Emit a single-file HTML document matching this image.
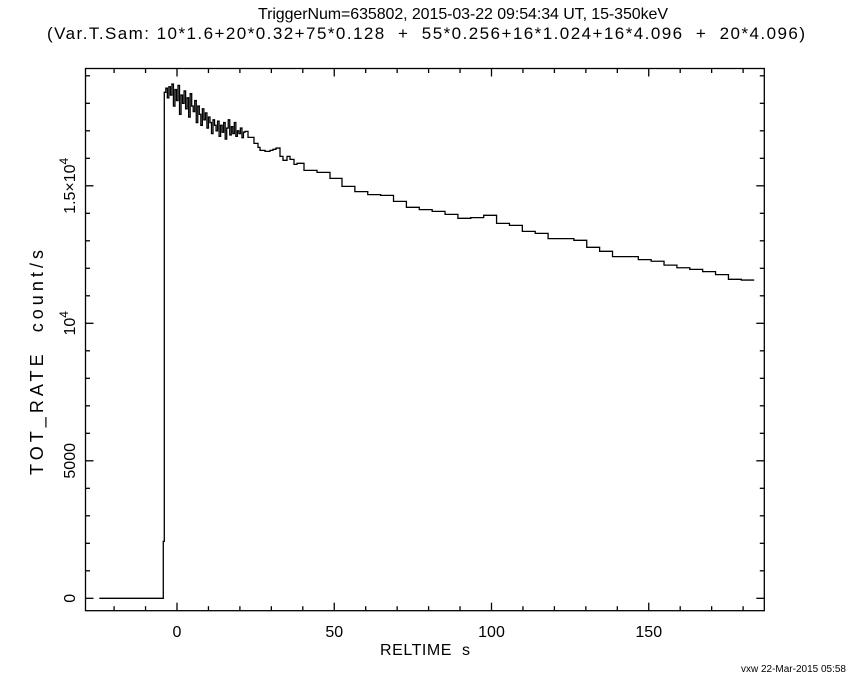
<!DOCTYPE html>
<html><head><meta charset="utf-8"><style>
html,body{margin:0;padding:0;background:#fff}
svg{display:block}
text{font-family:"Liberation Sans",sans-serif;fill:#000;white-space:pre}
</style></head><body>
<svg id="chart" width="850" height="680">
<text x="258" y="19" font-size="16" textLength="410" lengthAdjust="spacing">TriggerNum=635802, 2015-03-22 09:54:34 UT, 15-350keV</text>
<text x="47" y="39" font-size="17" textLength="758" lengthAdjust="spacing" xml:space="preserve">(Var.T.Sam: 10*1.6+20*0.32+75*0.128  +  55*0.256+16*1.024+16*4.096  +  20*4.096)</text>
<text x="380" y="655" font-size="16" textLength="90" lengthAdjust="spacing" xml:space="preserve">RELTIME  s</text>
<text transform="translate(43,475) rotate(-90)" font-size="18" textLength="225" lengthAdjust="spacing" xml:space="preserve">TOT_RATE  count/s</text>
<text x="846" y="672" font-size="10" text-anchor="end">vxw 22-Mar-2015 05:58</text>
<g id="axes"></g>
<path id="curve" fill="none" stroke="#000" stroke-width="1.3"></path>
</svg>
<script>
// pre-burst / rise steps
const preTimes = [-24.7, -4.36, -4.04];
const preValues = [0, 2070];
// high-res noisy segment (uniform bins)
const noisyStart = -4.04;
const noisyBin = 0.484;
const noisyValues = [18400,18550,18200,18600,18300,18700,17900,18500,18100,18650,17600,18300,18000,18450,17800,18200,17500,18350,17900,17700,18100,17300,17900,17600,17200,17800,17400,17650,17100,17500,17300,16900,17400,17200,17000,17350,16800,17200,16950,17300,16700,17100,17400,16850,17150,16900,17300,16800,17000,16900,17100,16750,16950];
// medium-res segment (bin edges)
const midTimes = [21.62,22.58,24.48,25.76,26.39,27.98,29.57,30.52,31.48,32.75,33.70,34.98,35.93,37.20,38.16,40.38,44.52,48.65,52.46];
const midValues = [16980,16762,16544,16398,16289,16253,16289,16326,16373,16071,15926,16071,15962,15780,15817,15562,15489,15271];
// 4.096 s segment
const tailStart = 52.46;
const tailBin = 4.096;
const tailValues = [14980,14788,14678,14653,14435,14217,14133,14071,13962,13817,13842,13926,13635,13562,13344,13271,13079,13079,13017,12763,12617,12425,12425,12315,12256,12116,12021,11962,11879,11770,11599,11573];
const xMajorTicks = [0,50,100,150];
const yMajorTicks = [0,5000,10000,15000];
const yTickLabels = ["0","5000","10^4","1.5×10^4"];

const L=85.5,R=764.3,T=68.5,B=610.7;
const y0=598.3, yPer=137.5/5000;
const xs=t=>177+t*3.145;
const ys=v=>y0-v*yPer;
const NS="http://www.w3.org/2000/svg";
const axes=document.getElementById('axes');
function ln(x1,y1,x2,y2,name){
  const e=document.createElementNS(NS,'line');
  e.setAttribute('x1',x1);e.setAttribute('y1',y1);e.setAttribute('x2',x2);e.setAttribute('y2',y2);
  e.setAttribute('stroke','#000');e.setAttribute('stroke-width','1.3');
  
  
  axes.appendChild(e);return e;
}
const fr=document.createElementNS(NS,'rect');
fr.setAttribute('x',L);fr.setAttribute('y',T);fr.setAttribute('width',R-L);fr.setAttribute('height',B-T);
fr.setAttribute('fill','none');fr.setAttribute('stroke','#000');fr.setAttribute('stroke-width','1.3');


axes.appendChild(fr);
for(let t=-20;t<=180;t+=10){
  const x=xs(t), major=t%50===0, len=major?8:4.5;
  ln(x,B,x,B-len,'x-tick');ln(x,T,x,T+len,'x-tick-top');
}
xMajorTicks.forEach(t=>{
  const e=document.createElementNS(NS,'text');
  e.setAttribute('x',xs(t));e.setAttribute('y',637);e.setAttribute('font-size','16');e.setAttribute('text-anchor','middle');
  e.textContent=String(t);
  
  
  axes.appendChild(e);
});
for(let v=0;v<=19000;v+=1000){
  const y=ys(v); if(y<T) continue;
  const major=v%5000===0,len=major?8:4.5;
  ln(L,y,L+len,y,'y-tick');ln(R,y,R-len,y,'y-tick-right');
}
yMajorTicks.forEach((v,i)=>{
  const e=document.createElementNS(NS,'text');
  e.setAttribute('transform','translate(75,'+ys(v)+') rotate(-90)');
  e.setAttribute('font-size','16');e.setAttribute('text-anchor','middle');
  const lab=yTickLabels[i];
  if(lab.includes('^')){
    const [b,p]=lab.split('^');
    e.textContent=b;
    const s=document.createElementNS(NS,'tspan');
    s.setAttribute('dy','-7');s.setAttribute('font-size','12');s.textContent=p;
    e.appendChild(s);
  } else e.textContent=lab;
  
  
  axes.appendChild(e);
});
// build step curve
const edges=[],vals=[];
for(let i=0;i<preValues.length;i++){edges.push(preTimes[i]);vals.push(preValues[i]);}
for(let i=0;i<noisyValues.length;i++){edges.push(noisyStart+i*noisyBin);vals.push(noisyValues[i]);}
for(let i=0;i<midValues.length;i++){edges.push(midTimes[i]);vals.push(midValues[i]);}
for(let i=0;i<tailValues.length;i++){edges.push(tailStart+i*tailBin);vals.push(tailValues[i]);}
const endT=tailStart+tailValues.length*tailBin;
let d='';
for(let i=0;i<vals.length;i++){
  const x1=xs(edges[i]), x2=xs(i+1<vals.length?edges[i+1]:endT), y=ys(vals[i]);
  d+=(i===0?'M':'L')+x1.toFixed(2)+','+y.toFixed(2)+'L'+x2.toFixed(2)+','+y.toFixed(2);
}
document.getElementById('curve').setAttribute('d',d);
</script>
</body></html>
